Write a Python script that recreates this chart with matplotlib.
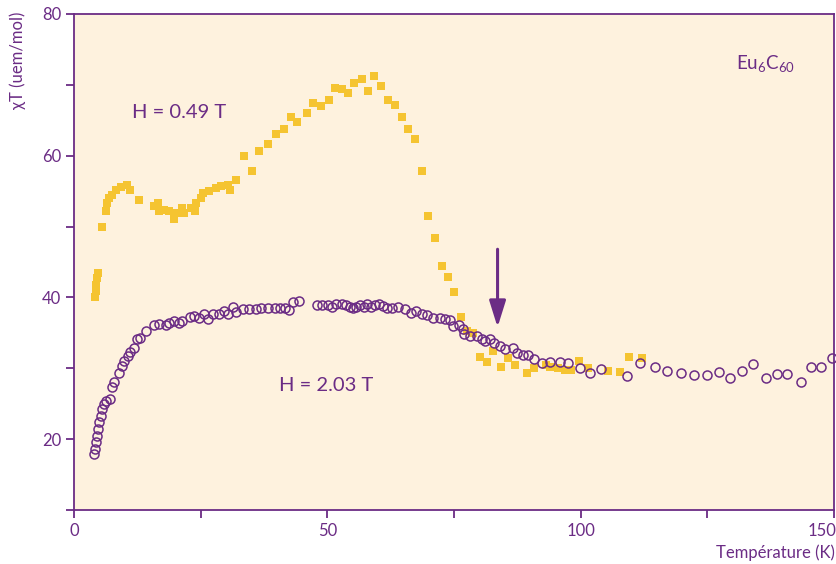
import matplotlib.pyplot as plt
import matplotlib.ticker as ticker

# H = 0.49 T (yellow squares)
t_low = [4.2, 4.3, 4.4, 4.6, 4.8, 5.5, 6.3, 6.6, 6.9, 7.5, 8.2, 9.2, 10.4, 11.1, 12.9,
         15.8, 16.5, 16.8, 17.8, 18.8, 19.8, 20.4, 21.4, 21.8, 23.1, 23.9, 24.1, 25.1, 25.4,
         26.7, 28.0, 29.0, 30.3, 30.7, 32.0, 33.6, 35.1, 36.6, 38.2, 39.8, 41.4, 42.9, 44.1,
         45.9, 47.1, 48.7, 50.3, 51.5, 52.8, 54.0, 55.2, 56.8, 58.0, 59.2, 60.6, 61.9, 63.3,
         64.7, 65.9, 67.3, 68.7, 69.9, 71.2, 72.6, 73.8, 75.0, 76.4, 77.6, 78.8, 80.1, 81.5,
         82.7, 84.3, 85.7, 87.1, 89.4, 90.8, 93.2, 94.0, 95.6, 97.0, 98.0, 99.7, 101.4,
         105.4, 107.7, 109.6, 112.2]
chi_low = [40.0, 40.9, 41.8, 42.8, 43.5, 50.0, 52.2, 53.3, 54.0, 54.5, 55.2, 55.6, 55.9, 55.1, 53.8,
           52.9, 53.3, 52.2, 52.4, 52.2, 51.0, 51.9, 52.6, 51.9, 52.6, 52.2, 53.3, 54.0, 54.7,
           55.0, 55.4, 55.7, 55.9, 55.2, 56.6, 59.9, 57.9, 60.6, 61.7, 63.0, 63.8, 65.4, 64.8,
           66.0, 67.4, 67.0, 67.9, 69.6, 69.4, 68.8, 70.3, 70.8, 69.1, 71.2, 69.9, 67.9, 67.2,
           65.5, 63.7, 62.4, 57.8, 51.5, 48.4, 44.5, 42.9, 40.7, 37.2, 35.3, 35.0, 31.6, 30.9,
           32.4, 30.2, 31.5, 30.5, 29.3, 30.0, 30.5, 30.2, 30.0, 29.8, 29.8, 31.0, 30.0,
           29.6, 29.5, 31.6, 31.5]

# H = 2.03 T (purple open circles)
t_high = [4.0, 4.2, 4.3, 4.5, 4.7, 4.9, 5.3, 5.6, 5.9, 6.4, 7.1, 7.5, 7.9, 8.9, 9.4, 9.9,
          10.6, 11.1, 11.9, 12.5, 13.0, 14.3, 15.8, 16.8, 18.1, 18.8, 19.8, 20.8, 21.4, 22.8,
          23.7, 24.7, 25.7, 26.4, 27.5, 28.7, 29.7, 30.3, 31.3, 32.0, 33.3, 34.6, 36.0, 36.9,
          38.3, 39.7, 40.7, 41.6, 42.4, 43.3, 44.5, 48.0, 49.0, 50.1, 51.0, 51.8, 52.8, 53.6,
          54.4, 55.1, 55.7, 56.4, 57.2, 57.8, 58.7, 59.4, 60.2, 61.0, 61.8, 62.7, 64.0, 65.3,
          66.6, 67.6, 68.6, 69.6, 70.9, 72.2, 73.2, 74.2, 74.9, 75.9, 76.8, 77.0, 78.2, 79.5,
          80.5, 81.1, 82.1, 82.8, 84.0, 85.1, 86.7, 87.4, 88.7, 89.7, 90.8, 92.4, 94.0, 96.0,
          97.6, 99.8, 101.9, 104.1, 109.1, 111.8, 114.7, 117.0, 119.9, 122.4, 124.9, 127.3,
          129.5, 131.8, 134.0, 136.5, 138.7, 140.8, 143.4, 145.5, 147.4, 149.6]
chi_high = [17.9, 18.6, 19.6, 20.5, 21.4, 22.4, 23.3, 24.2, 24.9, 25.4, 25.6, 27.3, 28.0, 29.3, 30.3, 31.0,
            31.7, 32.3, 32.9, 34.1, 34.3, 35.3, 36.1, 36.3, 36.1, 36.4, 36.7, 36.4, 36.7, 37.3,
            37.4, 37.1, 37.6, 37.0, 37.7, 37.6, 38.1, 37.6, 38.7, 37.9, 38.4, 38.4, 38.4, 38.5,
            38.5, 38.5, 38.5, 38.5, 38.2, 39.4, 39.5, 39.0, 38.9, 38.9, 38.6, 39.1, 39.1, 38.9,
            38.6, 38.5, 38.6, 38.9, 38.6, 39.1, 38.6, 38.9, 39.1, 38.8, 38.5, 38.5, 38.7, 38.4,
            37.8, 38.1, 37.6, 37.5, 37.1, 37.1, 37.0, 36.8, 36.0, 36.1, 35.5, 34.8, 34.6, 34.5,
            34.1, 33.8, 34.1, 33.5, 33.1, 32.7, 32.8, 32.1, 31.9, 31.9, 31.3, 30.8, 30.9, 30.9,
            30.8, 30.1, 29.4, 29.9, 28.9, 30.8, 30.2, 29.6, 29.4, 29.1, 29.1, 29.5,
            28.7, 29.6, 30.6, 28.7, 29.2, 29.2, 28.1, 30.2, 30.2, 31.4]

x_ticks = [0, 50, 100, 150]
x_labels = ['0', '50', '100', '']

purple = '#6B2C85'
yellow = '#F5C431'
bg = '#FEF2DE'

plt.rcParams['font.family'] = ['Lato', 'DejaVu Sans']
plt.rcParams['mathtext.fontset'] = 'custom'
plt.rcParams['mathtext.rm'] = 'Lato'

fig = plt.figure(figsize=(8.37, 5.64), dpi=100)
ax = fig.add_axes([0.0884, 0.0957, 0.908, 0.8795])
ax.set_facecolor(bg)

ax.plot(t_low, chi_low, 's', color=yellow, markersize=6, markeredgewidth=0, clip_on=False)
ax.plot(t_high, chi_high, 'o', markerfacecolor='none', markeredgecolor=purple,
        markersize=6.5, markeredgewidth=1.1, clip_on=False)

ax.annotate('', xy=(83.6, 35.8), xytext=(83.6, 46.8),
            arrowprops=dict(arrowstyle='-|>,head_length=1.6,head_width=0.5',
                            color=purple, lw=2.2, shrinkA=0, shrinkB=0))

ax.text(11.5, 66.1, 'H = 0.49 T', color=purple, fontsize=14.5, va='center')
ax.text(40.4, 27.6, 'H = 2.03 T', color=purple, fontsize=14.5, va='center')
ax.text(130.6, 73.0, r'Eu$\mathrm{_6}$C$\mathrm{_{60}}$', color=purple, fontsize=13.5, va='center')

ax.set_xlim(0, 150)
ax.set_ylim(10, 80)
ax.set_xticks(x_ticks, x_labels)
ax.xaxis.set_minor_locator(ticker.MultipleLocator(25))
ax.yaxis.set_major_locator(ticker.MultipleLocator(20))
ax.yaxis.set_minor_locator(ticker.MultipleLocator(10))
ax.tick_params(which='both', direction='out', length=6, width=1.3, color=purple,
               labelcolor=purple, labelsize=12)
ax.tick_params(axis='y', pad=3)
for side in ['left', 'right', 'top', 'bottom']:
    ax.spines[side].set_color(purple)
    ax.spines[side].set_linewidth(1.3)

# last x label pulled in so it stays inside the picture
ax.annotate('150', xy=(1, 0), xycoords='axes fraction', xytext=(2, -9.5),
            textcoords='offset points', ha='right', va='top', color=purple, fontsize=12)

fig.text(18 / 837, 1 - 12 / 564, 'χT (uem/mol)', rotation=90, va='top', ha='center',
         color=purple, fontsize=12)
fig.text(835 / 837, 1 - 553 / 564, 'Température (K)', ha='right', va='center',
         color=purple, fontsize=12)

plt.savefig('out.png', dpi=100)
